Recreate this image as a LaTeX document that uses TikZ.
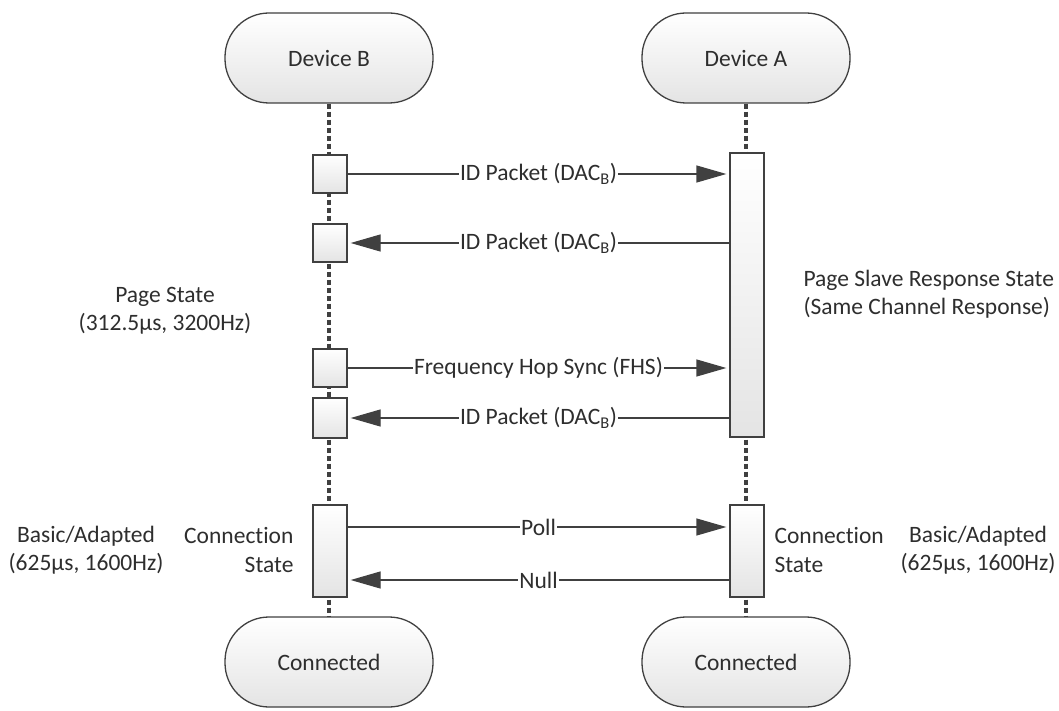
\documentclass[tikz,border=0pt]{standalone}
\usepackage{fontspec}
\setmainfont{Carlito}[Ligatures=NoCommon]
\usepackage{tikz}
\usetikzlibrary{arrows.meta, calc}
\definecolor{linegray}{HTML}{404040}
\definecolor{textgray}{HTML}{2E2E2E}
\definecolor{shadegray}{HTML}{E4E4E4}
\tikzset{
    every node/.style={font=\fontsize{23.5}{28.5}\selectfont, text=textgray},
    terminal/.style={rectangle, rounded corners=44pt, draw=linegray, line width=1.3pt,
        top color=white, bottom color=shadegray, minimum width=208pt, minimum height=90pt},
    actbox/.style={rectangle, draw=linegray, line width=1.3pt, inner sep=0pt,
        top color=white, bottom color=shadegray, minimum width=34pt},
    lifeline/.style={draw=linegray, line width=3.2pt, dash pattern=on 5pt off 3pt},
    msg/.style={draw=linegray, line width=1.3pt, shorten >=3pt,
        -{Triangle[length=30pt,width=17pt,fill=linegray]}},
    msglabel/.style={fill=white, inner sep=1pt}
}
\begin{document}
\begin{tikzpicture}[x=1pt, y=-1pt]
        \useasboundingbox (0,0) rectangle (1059,711);

        % Lifeline ends
        \node[terminal] (devB) at (329, 58)  {Device B};
        \node[terminal] (devA) at (746, 58)  {Device A};
        \node[terminal] (conB) at (329, 662) {Connected};
        \node[terminal] (conA) at (746, 662) {Connected};

        \draw[lifeline] (devB.south) -- (conB.north);
        \draw[lifeline] (devA.south) -- (conA.north);

        % Activation boxes, Device B
        \node[actbox, minimum height=38pt] (pgB1) at (330, 174) {};
        \node[actbox, minimum height=38pt] (pgB2) at (330, 243) {};
        \node[actbox, minimum height=38pt] (pgB3) at (330, 368) {};
        \node[actbox, minimum height=40pt] (pgB4) at (330, 418) {};
        \node[actbox, minimum height=92pt] (cnB)  at (330, 551) {};

        % Activation boxes, Device A
        \node[actbox, minimum height=284pt] (pgA) at (747, 295) {};
        \node[actbox, minimum height=92pt]  (cnA) at (747, 551) {};

        % Paging exchange
        \draw[msg] (pgB1.east) -- node[msglabel] {ID Packet (DAC\textsubscript{B})} (pgB1.east -| pgA.west);
        \draw[msg] (pgB2.east -| pgA.west) -- node[msglabel] {ID Packet (DAC\textsubscript{B})} (pgB2.east);
        \draw[msg] (pgB3.east) -- node[msglabel] {Frequency Hop Sync (FHS)} (pgB3.east -| pgA.west);
        \draw[msg] (pgB4.east -| pgA.west) -- node[msglabel] {ID Packet (DAC\textsubscript{B})} (pgB4.east);

        % Connection exchange
        \draw[msg] ([yshift=24pt]cnB.east) -- node[msglabel] {Poll} ([yshift=24pt]cnB.east -| cnA.west);
        \draw[msg] ([yshift=-29pt]cnB.east -| cnA.west) -- node[msglabel] {Null} ([yshift=-29pt]cnB.east);

        % State notes
        \node[align=center] (pgNoteB) at (165, 311) {Page State\\(312.5µs, 3200Hz)};
        \node[align=left, anchor=west] (pgNoteA) at (800, 294) {Page Slave Response State\\(Same Channel Response)};
        \node[align=right, anchor=east] (cnNoteB) at (297, 550) {Connection\\State};
        \node[align=left, anchor=west] (cnNoteA) at (771, 550) {Connection\\State};
        \node[align=center] (rateB) at (86, 550) {Basic/Adapted\\(625µs, 1600Hz)};
        \node[align=center] (rateA) at (978, 550) {Basic/Adapted\\(625µs, 1600Hz)};
\end{tikzpicture}
\end{document}
